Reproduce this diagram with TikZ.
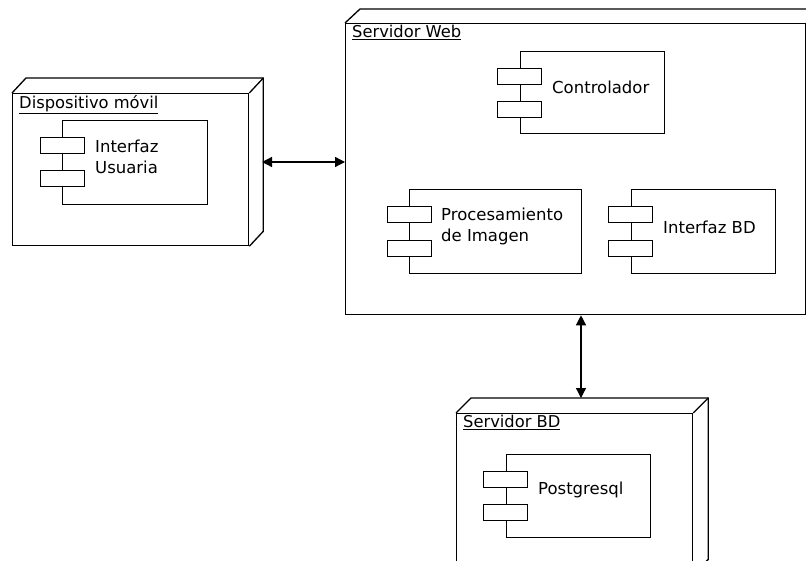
\documentclass[tikz,border=0pt]{standalone}
\usepackage{fontspec}
\setmainfont{DejaVu Sans}
\usetikzlibrary{arrows.meta,calc}
\tikzset{
  face/.style={draw, line width=1.3pt, fill=white, inner sep=0, anchor=north west},
  comp/.style={draw, line width=1.1pt, fill=white, inner sep=0, anchor=north west},
  port/.style={draw, line width=1.1pt, fill=white, inner sep=0, minimum width=44pt, minimum height=16pt, anchor=north west},
  ctext/.style={anchor=west, align=left, inner sep=0, font=\fontsize{16.5}{21}\selectfont},
  title/.style={anchor=north west, inner sep=0, font=\fontsize{16.3}{18}\selectfont},
  edge3d/.style={line width=1.3pt},
  link/.style={line width=1.3pt, {Triangle[length=10pt,width=10pt]}-{Triangle[length=10pt,width=10pt]}}
}
\begin{document}
\begin{tikzpicture}[x=1pt,y=-1pt]
\useasboundingbox (0,0) rectangle (806,561);

% ---- Dispositivo movil ----
\node[face, minimum width=236pt, minimum height=152pt] (dev) at (12,93) {};
\draw[edge3d] (dev.north west) -- ++(14,-15) -- ($(dev.north east)+(14,-15)$) -- ($(dev.south east)+(14,-15)$) -- (dev.south east);
\draw[edge3d] (dev.north east) -- ++(14,-15);
\node[title] (devt) at (19,95) {\underline{Dispositivo móvil}};
\node[comp, minimum width=145pt, minimum height=84pt] (ui) at (62,120) {};
\node[port] (uip1) at (40,137) {};
\node[port] (uip2) at (40,170) {};
\node[ctext] (uit) at (95,157) {Interfaz\\Usuaria};

% ---- Servidor Web ----
\node[face, minimum width=460pt, minimum height=291pt] (web) at (345,23) {};
\draw[edge3d] (web.north west) -- ++(15,-14) -- ($(web.north east)+(15,-14)$);
\draw[edge3d] (web.north east) -- ++(15,-14);
\node[title] (webt) at (352,25) {\underline{Servidor Web}};

\node[comp, minimum width=144pt, minimum height=82pt] (ctl) at (520,51) {};
\node[port] (ctlp1) at (497,68) {};
\node[port] (ctlp2) at (497,101) {};
\node[ctext] (ctlt) at (552,87) {Controlador};

\node[comp, minimum width=172pt, minimum height=84pt] (img) at (409,189) {};
\node[port] (imgp1) at (387,206) {};
\node[port] (imgp2) at (387,240) {};
\node[ctext] (imgt) at (441,226) {Procesamiento\\de Imagen};

\node[comp, minimum width=144pt, minimum height=84pt] (ibd) at (631,189) {};
\node[port] (ibdp1) at (608,206) {};
\node[port] (ibdp2) at (608,240) {};
\node[ctext] (ibdt) at (663,227) {Interfaz BD};

% ---- Servidor BD ----
\node[face, minimum width=236pt, minimum height=160pt] (bd) at (456,413) {};
\draw[edge3d] (bd.north west) -- ++(15,-15) -- ($(bd.north east)+(15,-15)$) -- ($(bd.south east)+(15,-15)$) -- (bd.south east);
\draw[edge3d] (bd.north east) -- ++(15,-15);
\node[title] (bdt) at (463,415) {\underline{Servidor BD}};

\node[comp, minimum width=144pt, minimum height=83pt] (pg) at (506,454) {};
\node[port] (pgp1) at (483,471) {};
\node[port] (pgp2) at (483,504) {};
\node[ctext] (pgt) at (538,490) {Postgresql};

% ---- connectors ----
\coordinate (devback) at (262,162);
\coordinate (bdtop) at (581,398);
\draw[link] (devback) -- (devback -| web.west);
\draw[link] (bdtop |- web.south) -- (bdtop);
\end{tikzpicture}
\end{document}
